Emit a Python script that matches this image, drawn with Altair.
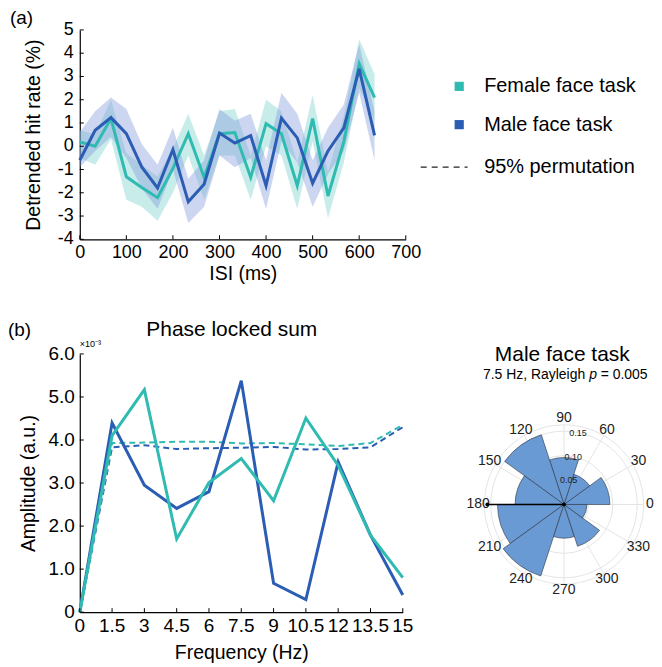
import altair as alt
import pandas as pd
import numpy as np

FONT = "Liberation Sans"
TEAL = "#2fbab2"
BLUE = "#2a5db3"
TEAL_BAND = "#75cfca"
BLUE_BAND = "#8298dc"
ROSE = "#6a9ad4"

# ---------------- Panel (a): detrended hit rate ----------------
isi_ms = [0, 33, 67, 100, 133, 167, 200, 233, 267, 300, 333, 367, 400, 433, 467, 500, 533, 567, 600, 633]
female_hit = [0.19, 0.0, 1.19, -1.31, -1.77, -2.21, -0.95, 0.54, -1.34, 0.54, 0.59, -1.34, 0.97, 0.54, -1.70, 1.19, -2.14, 0.20, 3.55, 2.09]
female_lo = [-0.5, -0.8, 0.3, -2.3, -2.6, -3.2, -2.0, -0.4, -2.3, -0.4, -0.4, -2.3, 0.0, -0.4, -2.7, 0.2, -3.1, -0.7, 2.5, 1.1]
female_hi = [0.7, 0.5, 2.0, -0.3, -0.8, -1.3, -0.1, 1.4, -0.4, 1.5, 1.6, -0.4, 2.0, 1.5, -0.7, 2.2, -1.1, 1.3, 4.6, 3.1]
male_hit = [-0.60, 0.69, 1.23, 0.54, -0.89, -1.79, -0.14, -2.39, -1.63, 0.57, 0.14, 0.46, -1.70, 1.21, 0.36, -1.59, -0.20, 0.79, 3.33, 0.47]
male_lo = [-0.9, -0.2, 0.4, -0.5, -1.8, -2.7, -1.0, -3.3, -2.6, -0.4, -0.9, -0.5, -2.7, 0.2, -0.7, -2.6, -1.2, -0.2, 2.3, -0.6]
male_hi = [0.6, 1.5, 2.1, 1.6, 0.1, -0.8, 0.8, -1.4, -0.6, 1.6, 1.1, 1.4, -0.6, 2.3, 1.4, -0.6, 0.8, 1.8, 4.4, 1.5]
isi_ticks = [0, 100, 200, 300, 400, 500, 600, 700]
hit_ticks = [-4, -3, -2, -1, 0, 1, 2, 3, 4, 5]
hit_tick_labels = ["-4", "-3", "-2", "-1", "0", "1", "2", "3", "4", "5"]

# ---------------- Panel (b): phase locked sum ----------------
freq_hz = [0, 1.5, 3, 4.5, 6, 7.5, 9, 10.5, 12, 13.5, 15]
freq_tick_labels = ["0", "1.5", "3", "4.5", "6", "7.5", "9", "10.5", "12", "13.5", "15"]
female_amp = [0.0, 4.10, 5.17, 1.70, 3.01, 3.57, 2.59, 4.51, 3.41, 1.79, 0.80]
male_amp = [0.0, 4.40, 2.95, 2.41, 2.80, 5.38, 0.67, 0.29, 3.49, 1.79, 0.40]
female_perm = [0.0, 3.93, 3.94, 3.96, 3.96, 3.92, 3.93, 3.90, 3.86, 3.93, 4.35]
male_perm = [0.0, 3.83, 3.88, 3.79, 3.81, 3.82, 3.84, 3.78, 3.79, 3.83, 4.30]
amp_ticks = [0, 1, 2, 3, 4, 5, 6]
amp_tick_labels = ["0", "1.0", "2.0", "3.0", "4.0", "5.0", "6.0"]

# ---------------- Polar histogram (male face task, 7.5 Hz) ----------------
bin_edges_deg = [0, 36, 72, 108, 144, 180, 216, 252, 288, 324, 360]
phase_prob = [0.094, 0.065, 0.096, 0.150, 0.100, 0.136, 0.154, 0.069, 0.090, 0.047]
ring_values = [0.05, 0.10, 0.15]
ring_labels = ["0.05", "0.10", "0.15"]
outer_r = 0.163
angle_labels = [0, 30, 60, 90, 120, 150, 180, 210, 240, 270, 300, 330]
mean_angle_deg = 180
mean_len = 0.157


def text_layer(txt, x, y, size, align="center", baseline="middle", style="normal", color="black"):
    return alt.Chart(pd.DataFrame({"t": [txt]})).mark_text(
        font=FONT, fontSize=size, align=align, baseline=baseline, fontStyle=style, color=color
    ).encode(text="t:N", x=alt.value(x), y=alt.value(y))


def xticks(vals, scale, h):
    return alt.Chart(pd.DataFrame({"v": vals})).mark_rule(color="black", strokeWidth=1).encode(
        x=alt.X("v:Q", scale=scale), y=alt.value(h - 4), y2=alt.value(h))


def yticks(vals, scale):
    return alt.Chart(pd.DataFrame({"v": vals})).mark_rule(color="black", strokeWidth=1).encode(
        y=alt.Y("v:Q", scale=scale), x=alt.value(0), x2=alt.value(4))


# ======================= Panel (a) =======================
df_f = pd.DataFrame({"isi": isi_ms, "hit": female_hit, "lo": female_lo, "hi": female_hi})
df_m = pd.DataFrame({"isi": isi_ms, "hit": male_hit, "lo": male_lo, "hi": male_hi})

xa = alt.Scale(domain=[0, 700], nice=False, zero=False)
ya = alt.Scale(domain=[-4, 5], nice=False, zero=False)
x_axis_a = alt.Axis(values=isi_ticks, title="ISI (ms)", labelPadding=4, titlePadding=3,
                    labelFlush=False, labelOverlap=False, grid=False, ticks=False)
y_axis_a = alt.Axis(values=hit_ticks, title="Detrended hit rate (%)", labels=False, titlePadding=36,
                    grid=False, ticks=False)

band_f = alt.Chart(df_f).mark_area(opacity=0.4, color=TEAL_BAND).encode(
    x=alt.X("isi:Q", scale=xa, axis=x_axis_a),
    y=alt.Y("lo:Q", scale=ya, axis=y_axis_a),
    y2="hi:Q")
band_m = alt.Chart(df_m).mark_area(opacity=0.4, color=BLUE_BAND).encode(
    x=alt.X("isi:Q", scale=xa), y=alt.Y("lo:Q", scale=ya), y2="hi:Q")
line_f = alt.Chart(df_f).mark_line(strokeWidth=3, color=TEAL).encode(
    x=alt.X("isi:Q", scale=xa), y=alt.Y("hit:Q", scale=ya))
line_m = alt.Chart(df_m).mark_line(strokeWidth=3, color=BLUE).encode(
    x=alt.X("isi:Q", scale=xa), y=alt.Y("hit:Q", scale=ya))
ylab_a = alt.Chart(pd.DataFrame({"v": hit_ticks, "lab": hit_tick_labels})).mark_text(
    font=FONT, fontSize=18, align="right", baseline="middle", color="black").encode(
    x=alt.value(-6), y=alt.Y("v:Q", scale=ya), text="lab:N")

legend_labels = ["Female face task", "Male face task", "95% permutation"]
leg_sq_f = alt.Chart(pd.DataFrame({"t": [legend_labels[0]]})).mark_square(size=85, opacity=1, color=TEAL).encode(
    x=alt.value(380.6), y=alt.value(56.6))
leg_sq_m = alt.Chart(pd.DataFrame({"t": [legend_labels[1]]})).mark_square(size=85, opacity=1, color=BLUE).encode(
    x=alt.value(380.6), y=alt.value(95.0))
leg_dash = alt.Chart(pd.DataFrame({"t": [legend_labels[2]]})).mark_rule(
    strokeDash=[6, 5], strokeWidth=1.5, color="#222").encode(
    x=alt.value(342), x2=alt.value(389), y=alt.value(137.6))

top = alt.layer(
    band_f, band_m, line_f, line_m, ylab_a,
    xticks(isi_ticks, xa, 210), yticks(hit_ticks, ya),
    leg_sq_f, leg_sq_m, leg_dash,
    text_layer(legend_labels[0], 405.6, 56.6, 20, align="left"),
    text_layer(legend_labels[1], 405.6, 95.0, 20, align="left"),
    text_layer(legend_labels[2], 405.6, 137.6, 20, align="left"),
    text_layer("(a)", -70, -11.5, 19, align="left"),
).properties(width=327, height=210)

# ======================= Panel (b) =======================
df_bf = pd.DataFrame({"freq": freq_hz, "amp": female_amp, "perm": female_perm})
df_bm = pd.DataFrame({"freq": freq_hz, "amp": male_amp, "perm": male_perm})

xb = alt.Scale(domain=[0, 15], nice=False, zero=False)
yb = alt.Scale(domain=[0, 6], nice=False, zero=False)
x_axis_b = alt.Axis(values=freq_hz, title="Frequency (Hz)", labels=False, titlePadding=32,
                    grid=False, ticks=False)
y_axis_b = alt.Axis(values=amp_ticks, title="Amplitude (a.u.)", labels=False, titlePadding=41,
                    grid=False, ticks=False)

perm_m = alt.Chart(df_bm).mark_line(strokeWidth=2, strokeDash=[6, 4], color=BLUE).encode(
    x=alt.X("freq:Q", scale=xb, axis=x_axis_b),
    y=alt.Y("perm:Q", scale=yb, axis=y_axis_b))
perm_f = alt.Chart(df_bf).mark_line(strokeWidth=2, strokeDash=[6, 4], color=TEAL).encode(
    x=alt.X("freq:Q", scale=xb), y=alt.Y("perm:Q", scale=yb))
amp_m = alt.Chart(df_bm).mark_line(strokeWidth=3, color=BLUE).encode(
    x=alt.X("freq:Q", scale=xb), y=alt.Y("amp:Q", scale=yb))
amp_f = alt.Chart(df_bf).mark_line(strokeWidth=3, color=TEAL).encode(
    x=alt.X("freq:Q", scale=xb), y=alt.Y("amp:Q", scale=yb))
xlab_b = alt.Chart(pd.DataFrame({"v": freq_hz, "lab": freq_tick_labels})).mark_text(
    font=FONT, fontSize=19, align="center", baseline="top", color="black").encode(
    x=alt.X("v:Q", scale=xb), y=alt.value(264), text="lab:N")
ylab_b = alt.Chart(pd.DataFrame({"v": amp_ticks, "lab": amp_tick_labels})).mark_text(
    font=FONT, fontSize=19, align="right", baseline="middle", color="black").encode(
    x=alt.value(-5), y=alt.Y("v:Q", scale=yb), text="lab:N")

main_b = alt.layer(
    perm_m, perm_f, amp_m, amp_f, xlab_b, ylab_b,
    xticks(freq_hz, xb, 259), yticks(amp_ticks, yb),
    text_layer("(b)", -72, -23.7, 19, align="left"),
    text_layer("Phase locked sum", 152.5, -23.7, 21),
    text_layer("\u00d710\u207b\u00b3", 0, -9.5, 9, align="left"),
)

# ---- polar ----
PX = alt.Scale(domain=[-0.2, 0.2], range=[387.7, 583.7], nice=False, zero=False)
PY = alt.Scale(domain=[-0.2, 0.2], range=[249, 53], nice=False, zero=False)
TH = alt.Scale(domain=[-360, 360], range=[-2 * np.pi, 2 * np.pi])
RS = alt.Scale(type="linear", domain=[0, 0.2], range=[0, 98], zero=True)

lo = np.array(bin_edges_deg[:-1], dtype=float)
hi = np.array(bin_edges_deg[1:], dtype=float)
df_bins = pd.DataFrame({"t0": 90 - hi, "t1": 90 - lo, "r": phase_prob, "cx": 0.0, "cy": 0.0})
df_rings = pd.DataFrame({"t0": 0.0, "t1": 360.0, "r": ring_values + [outer_r], "cx": 0.0, "cy": 0.0})
ang = np.radians(np.array(angle_labels, dtype=float))
df_spokes = pd.DataFrame({"x0": 0.0, "y0": 0.0, "x1": outer_r * np.cos(ang), "y1": outer_r * np.sin(ang)})
lab_r = 0.176
df_alab = pd.DataFrame({"lab": [str(a) for a in angle_labels],
                        "lx": lab_r * np.cos(ang), "ly": lab_r * np.sin(ang)})
ring_ang = np.radians(79.0)
df_rlab = pd.DataFrame({"lab": ring_labels,
                        "lx": np.array(ring_values) * np.cos(ring_ang),
                        "ly": np.array(ring_values) * np.sin(ring_ang)})
ma = np.radians(mean_angle_deg)
df_mean = pd.DataFrame({"x0": [0.0], "y0": [0.0], "x1": [mean_len * np.cos(ma)], "y1": [mean_len * np.sin(ma)]})
df_dots = pd.DataFrame({"x": [0.0, mean_len * np.cos(ma)], "y": [0.0, mean_len * np.sin(ma)]})

rings = alt.Chart(df_rings).mark_arc(fillOpacity=0, stroke="#e4e4e4", strokeWidth=1).encode(
    x=alt.X("cx:Q", scale=PX, axis=None), y=alt.Y("cy:Q", scale=PY, axis=None),
    theta=alt.Theta("t0:Q", scale=TH, stack=False), theta2="t1:Q",
    radius=alt.Radius("r:Q", scale=RS))
spokes = alt.Chart(df_spokes).mark_rule(color="#e4e4e4", strokeWidth=1).encode(
    x=alt.X("x0:Q", scale=PX, axis=None), y=alt.Y("y0:Q", scale=PY, axis=None),
    x2="x1:Q", y2="y1:Q")
bars = alt.Chart(df_bins).mark_arc(fill=ROSE, stroke="#2b3440", strokeWidth=0.6).encode(
    x=alt.X("cx:Q", scale=PX, axis=None), y=alt.Y("cy:Q", scale=PY, axis=None),
    theta=alt.Theta("t0:Q", scale=TH, stack=False), theta2="t1:Q",
    radius=alt.Radius("r:Q", scale=RS))
alabels = alt.Chart(df_alab).mark_text(font=FONT, fontSize=14, color="#222").encode(
    x=alt.X("lx:Q", scale=PX, axis=None), y=alt.Y("ly:Q", scale=PY, axis=None), text="lab:N")
rlabels = alt.Chart(df_rlab).mark_text(font=FONT, fontSize=9, color="#222").encode(
    x=alt.X("lx:Q", scale=PX, axis=None), y=alt.Y("ly:Q", scale=PY, axis=None), text="lab:N")
mean_line = alt.Chart(df_mean).mark_rule(color="black", strokeWidth=1.5).encode(
    x=alt.X("x0:Q", scale=PX, axis=None), y=alt.Y("y0:Q", scale=PY, axis=None),
    x2="x1:Q", y2="y1:Q")
dots = alt.Chart(df_dots).mark_point(filled=True, size=14, color="black", opacity=1).encode(
    x=alt.X("x:Q", scale=PX, axis=None), y=alt.Y("y:Q", scale=PY, axis=None))

polar = alt.layer(
    rings, spokes, bars, rlabels, alabels, mean_line, dots,
    text_layer("Male face task", 484, 1, 21),
    text_layer("7.5 Hz, Rayleigh", 507, 21, 14, align="right"),
    text_layer("p", 511, 21, 14, align="left", style="italic"),
    text_layer("= 0.005", 522.5, 21, 14, align="left"),
)

bottom = alt.layer(main_b, polar).resolve_scale(x="independent", y="independent").properties(
    width=324, height=259)

chart = alt.vconcat(top, bottom, spacing=36).properties(padding=0).configure_view(
    stroke=None
).configure_axis(
    labelFont=FONT, titleFont=FONT, labelFontSize=18, titleFontSize=19.5,
    titleFontWeight="normal", labelColor="black", titleColor="black",
    domainColor="black", domainWidth=1.2
)

chart.save("out.html", embed_options={"renderer": "svg", "actions": False})
